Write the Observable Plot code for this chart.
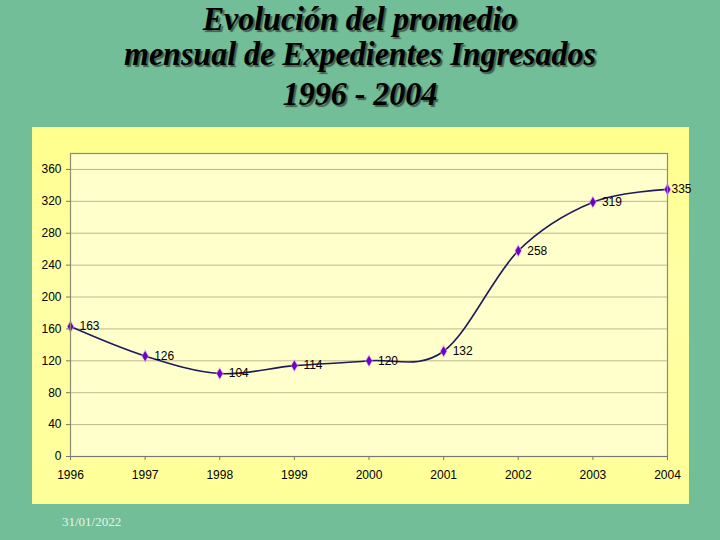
<!DOCTYPE html>
<html>
<head>
<meta charset="utf-8">
<script src="https://cdn.jsdelivr.net/npm/d3@7"></script>
<script src="https://cdn.jsdelivr.net/npm/@observablehq/plot@0.6"></script>
<style>
  html, body { margin: 0; padding: 0; }
  body { width: 720px; height: 540px; background: #72BE98; position: relative; overflow: hidden; }
  .t { position: absolute; left: 0; width: 720px; text-align: center; font-family: "Liberation Serif", "DejaVu Serif", serif; font-style: italic; font-weight: bold; font-size: 32px; color: #000; text-shadow: 2px 2px 1px #3f5f4e; line-height: 1; white-space: nowrap; transform: scaleY(1.03); transform-origin: 50% 0; }
  #panel { position: absolute; left: 32px; top: 127px; width: 657px; height: 377px; background: linear-gradient(#FFFF8C, #FFFFA6 40%, #FFFF99); }
  #chart { position: absolute; left: 0; top: 0; }
  #date { position: absolute; left: 62px; top: 514px; font-family: "Liberation Serif", serif; font-size: 13px; color: #E8F4E8; }
</style>
</head>
<body>
<div class="t" style="top:2px">Evolución del promedio</div>
<div class="t" style="top:37px">mensual de Expedientes Ingresados</div>
<div class="t" style="top:77px">1996 - 2004</div>
<div id="panel"></div>
<div id="chart"></div>
<div id="date">31/01/2022</div>
<script>
const years = [1996, 1997, 1998, 1999, 2000, 2001, 2002, 2003, 2004];
const values = [163, 126, 104, 114, 120, 132, 258, 319, 335];
const yTicks = [0, 40, 80, 120, 160, 200, 240, 280, 320, 360];

const data = years.map((year, i) => ({year, value: values[i]}));
const lastIdx = data.length - 1;

const font = '"Liberation Sans", Arial, sans-serif';

const chart = Plot.plot({
  width: 720,
  height: 540,
  marginLeft: 70,
  marginRight: 53,
  marginTop: 153,
  marginBottom: 84,
  style: { background: "transparent", fontFamily: font, fontSize: "12px", color: "#000" },
  x: { type: "linear", domain: [1996, 2004] },
  y: { domain: [0, 380] },
  marks: [
    Plot.frame({ fill: "#FFFFCC" }),
    Plot.gridY(yTicks.filter(d => d > 0), { stroke: "#BDB88E", strokeOpacity: 1, strokeWidth: 1 }),
    Plot.line(data, { x: "year", y: "value", curve: "cardinal", stroke: "#1E1B5A", strokeWidth: 1.6 }),
    Plot.dot(data, { x: "year", y: "value", symbol: "diamond", r: 4.2, fill: "#D9A0F0", fillOpacity: 0.6 }),
    Plot.dot(data, { x: "year", y: "value", symbol: "diamond", r: 3.1, fill: "#7000C8" }),
    Plot.text(data.slice(0, lastIdx), { x: "year", y: "value", text: d => String(d.value), textAnchor: "start", dx: 9, fill: "#000", fontSize: 12 }),
    Plot.text(data.slice(lastIdx), { x: "year", y: "value", text: d => String(d.value), textAnchor: "start", dx: 4, fill: "#000", fontSize: 12 }),
    Plot.frame({ stroke: "#8E8C70", strokeWidth: 1.2 }),
    Plot.axisY({ ticks: yTicks, tickSize: 4, tickPadding: 5, label: null, stroke: "#777", fontSize: 12 }),
    Plot.axisX({ ticks: years, tickFormat: d => String(d), tickSize: 4, tickPadding: 10, label: null, stroke: "#777", fontSize: 12 }),
    Plot.ruleY([0], { stroke: "#777" })
  ]
});
document.getElementById("chart").appendChild(chart);
</script>
</body>
</html>
